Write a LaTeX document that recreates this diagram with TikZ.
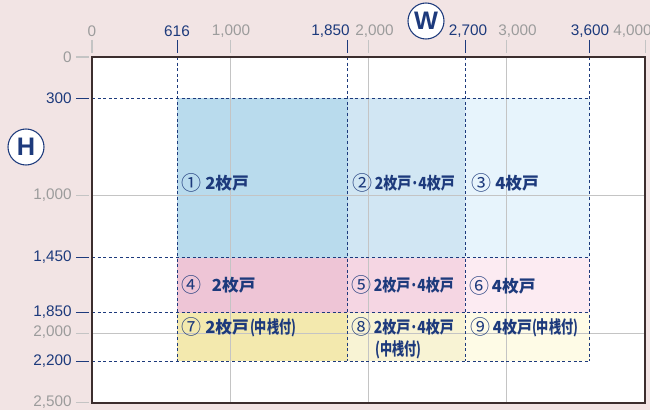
\documentclass[tikz,border=0pt]{standalone}
\usepackage{fontspec}
\usepackage{graphicx}
\setmainfont{Liberation Sans}
\newfontfamily\cjk{Noto Sans CJK JP}
\newfontfamily\cjkn{Noto Sans CJK JP}[FakeStretch=0.7]
\definecolor{bgpink}{HTML}{F2E4E4}
\definecolor{navy}{HTML}{1D3A7C}
\definecolor{gtxt}{HTML}{9C9C9C}
\definecolor{gline}{HTML}{C4C4C4}
\definecolor{frame}{HTML}{3C2E2E}
\definecolor{cA}{HTML}{B9DBED}
\definecolor{cB}{HTML}{D1E6F3}
\definecolor{cC}{HTML}{E7F4FC}
\definecolor{cD}{HTML}{EEC5D6}
\definecolor{cE}{HTML}{F5D6E3}
\definecolor{cF}{HTML}{FCEBF2}
\definecolor{cG}{HTML}{F3E9AE}
\definecolor{cH}{HTML}{F8F3D4}
\definecolor{cI}{HTML}{FEFBE6}
\newcommand\cn[1]{{\mdseries\fontsize{15}{16}\selectfont\raisebox{-0.5pt}{#1}}}
\newcommand\nk[1]{{\cjkn\bfseries\fontsize{13}{14}\selectfont #1}}
\newcommand\sq[2]{\scalebox{#1}[1]{#2}}
\tikzset{
  axnum/.style={font=\fontsize{11.5}{13}\selectfont, inner sep=0pt},
  gnum/.style={axnum, text=gtxt},
  bnum/.style={axnum, text=navy},
  gtick/.style={draw=gline, line width=0.8pt},
  btick/.style={draw=navy, line width=0.8pt},
  dash line/.style={draw=navy, line width=0.75pt, dash pattern=on 2.2pt off 2pt},
  gridl/.style={draw=gline, line width=0.75pt},
  lbl/.style={anchor=west, inner sep=0pt, text=navy, font=\cjk\bfseries\fontsize{12.5}{14}\selectfont},
  circlbl/.style={circle, draw=navy, fill=white, line width=0.8pt, minimum size=27pt, inner sep=0pt, text=navy, font=\bfseries\fontsize{19}{21}\selectfont}
}
\begin{document}
\begin{tikzpicture}[x=0.75pt,y=-0.75pt]
\useasboundingbox (0,0) rectangle (650,410);
\fill[bgpink] (0,0) rectangle (650,410);
\begin{scope}[shift={(92,57)},x=0.103725pt,y=-0.103725pt]
  \fill[white] (0,0) rectangle (4000,2500);
  % fills
  \fill[cA] (616,300) rectangle (1850,1450);
  \fill[cB] (1850,300) rectangle (2700,1450);
  \fill[cC] (2700,300) rectangle (3600,1450);
  \fill[cD] (616,1450) rectangle (1850,1850);
  \fill[cE] (1850,1450) rectangle (2700,1850);
  \fill[cF] (2700,1450) rectangle (3600,1850);
  \fill[cG] (616,1850) rectangle (1850,2200);
  \fill[cH] (1850,1850) rectangle (2700,2200);
  \fill[cI] (2700,1850) rectangle (3600,2200);
  % grid
  \foreach \v in {1000,2000,3000} \draw[gridl] (\v,0) -- (\v,2500);
  \foreach \v in {1000,2000} \draw[gridl] (0,\v) -- (4000,\v);
  % dashed
  \foreach \v in {616,1850,2700,3600} \draw[dash line] (\v,0) -- (\v,2200);
  \foreach \v in {300,1450,1850,2200} \draw[dash line] (0,\v) -- (3600,\v);
  % ticks top
  \foreach \v in {0,1000,2000,3000,4000} \draw[gtick] (\v,-123) -- (\v,-29);
  \foreach \v in {616,1850,2700,3600} \draw[btick] (\v,-123) -- (\v,-29);
  % ticks left
  \foreach \v in {0,1000,2000,2500} \draw[gtick] (-116,\v) -- (-22,\v);
  \foreach \v in {300,1450,1850,2200} \draw[btick] (-116,\v) -- (-22,\v);
  % frame
  \draw[frame, line width=1.2pt] (0,0) rectangle (4000,2500);
\end{scope}
% top axis labels
\node[gnum] (w0) at (92,31) {0};
\node[bnum] (w616) at (177,31) {616};
\node[gnum] (w1000) at (231,31) {1,000};
\node[bnum, anchor=east] (w1850) at (350,31) {1,850};
\node[gnum, anchor=west] (w2000) at (355,31) {2,000};
\node[bnum] (w2700) at (468,31) {2,700};
\node[gnum, anchor=west] (w3000) at (498,31) {3,000};
\node[bnum] (w3600) at (590,31) {3,600};
\node[gnum, anchor=west] (w4000) at (613,31) {4,000};
% left axis labels
\node[gnum, anchor=east] (h0) at (72,57) {0};
\node[bnum, anchor=east] (h300) at (72,98.5) {300};
\node[gnum, anchor=east] (h1000) at (72,195) {1,000};
\node[bnum, anchor=east] (h1450) at (72,257) {1,450};
\node[bnum, anchor=east] (h1850) at (72,312) {1,850};
\node[gnum, anchor=east] (h2000) at (72,332) {2,000};
\node[bnum, anchor=east] (h2200) at (72,361) {2,200};
\node[gnum, anchor=east] (h2500) at (72,402) {2,500};
% axis titles
\node[circlbl] (W) at (426,21) {W};
\node[circlbl] (H) at (26,147) {H};
% region labels
\node[lbl] (t1) at (181,183) {\cn{①}\hspace{3pt}2枚戸};
\node[lbl] (t2) at (352,183) {\cn{②}\hspace{2pt}\sq{0.84}{2枚戸･4枚戸}};
\node[lbl] (t3) at (471,183) {\cn{③}\hspace{3pt}4枚戸};
\node[lbl] (t4) at (181,285) {\cn{④}\hspace{8pt}2枚戸};
\node[lbl] (t5) at (351,285) {\cn{⑤}\hspace{2pt}\sq{0.84}{2枚戸･4枚戸}};
\node[lbl] (t6) at (469,286) {\cn{⑥}\hspace{2pt}4枚戸};
\node[lbl] (t7) at (181,327) {\cn{⑦}\hspace{3pt}2枚戸\hspace{1pt}\nk{(中桟付)}};
\node[lbl] (t8) at (351,327) {\cn{⑧}\hspace{2pt}\sq{0.84}{2枚戸･4枚戸}};
\node[lbl] (t8b) at (375,350) {\nk{(中桟付)}};
\node[lbl] (t9) at (470,327) {\cn{⑨}\hspace{2pt}\sq{0.9}{4枚戸}\nk{(中桟付)}};
\end{tikzpicture}
\end{document}
